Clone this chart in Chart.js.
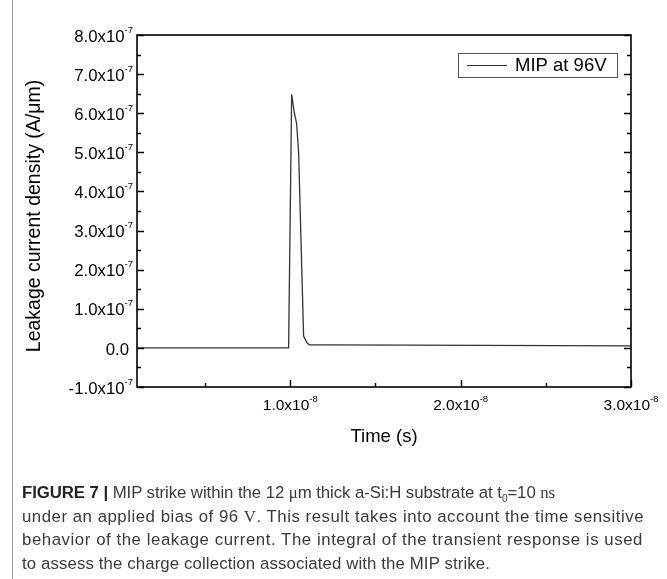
<!DOCTYPE html>
<html>
<head>
<meta charset="utf-8">
<script src="https://cdn.jsdelivr.net/npm/chart.js@4.4.1/dist/chart.umd.min.js"></script>
<style>
  html, body { margin: 0; padding: 0; background: #fff; }
  #wrap { position: relative; width: 667px; height: 579px; overflow: hidden; }
  #c { position: absolute; left: 0; top: 0; }
  #caption {
    position: absolute; left: 22px; top: 481px; width: 645px;
    font-family: "Liberation Sans", Arial, sans-serif; font-size: 16.8px;
    line-height: 23.5px; color: #3a3a3a;
  }
  #caption div { white-space: nowrap; height: 23.5px; }
  #caption b { color: #222; }
  .serif { font-family: "Liberation Serif", "Times New Roman", serif; }
  .sub { font-size: 10px; position: relative; top: 4px; line-height: 0; }
  #leftline { position: absolute; left: 12px; top: 0; width: 1px; height: 579px; background: #9a9a9a; }
</style>
</head>
<body>
<div id="wrap">
  <canvas id="c" width="667" height="579"></canvas>
  <div id="leftline"></div>
  <div id="caption">
    <div><span class="capline" data-w="533"><b>FIGURE 7 |</b> MIP strike within the 12 <span class="serif">μ</span>m thick a-Si:H substrate at t<span class="sub">0</span>=10 <span class="serif">ns</span></span></div>
    <div><span class="capline" data-w="622">under an applied bias of 96 <span class="serif">V</span>. This result takes into account the time sensitive</span></div>
    <div><span class="capline" data-w="621">behavior of the leakage current. The integral of the transient response is used</span></div>
    <div><span class="capline" data-w="468">to assess the charge collection associated with the MIP strike.</span></div>
  </div>
</div>
<script>
// ---- data ----
const seriesName = "MIP at 96V";
const timeSec = [1.0e-9, 9.90e-9, 1.008e-8, 1.024e-8, 1.037e-8, 1.049e-8, 1.078e-8, 1.098e-8, 1.112e-8, 1.2e-8, 1.7e-8, 3.0e-8];
const currentDensity = [0, 0, 6.48e-7, 6.00e-7, 5.74e-7, 4.97e-7, 0.30e-7, 0.13e-7, 0.08e-7, 0.075e-7, 0.07e-7, 0.05e-7];

const xMajorTicks = [1e-8, 2e-8, 3e-8];
const xTickMantissa = ["1.0", "2.0", "3.0"];
const xTickExponent = ["-8", "-8", "-8"];
const xMinorTicks = [5e-9, 1.5e-8, 2.5e-8];

const yMajorTicks = [-1e-7, 0, 1e-7, 2e-7, 3e-7, 4e-7, 5e-7, 6e-7, 7e-7, 8e-7];
const yTickMantissa = ["-1.0", "0.0", "1.0", "2.0", "3.0", "4.0", "5.0", "6.0", "7.0", "8.0"];
const yTickExponent = ["-7", "", "-7", "-7", "-7", "-7", "-7", "-7", "-7", "-7"];
const yMinorTicks = [-0.5e-7, 0.5e-7, 1.5e-7, 2.5e-7, 3.5e-7, 4.5e-7, 5.5e-7, 6.5e-7, 7.5e-7];

const xTitle = "Time (s)";
const yTitle = "Leakage current density (A/\u03BCm)";

const points = timeSec.map((t, i) => ({ x: t, y: currentDensity[i] }));

const FONT = '"Liberation Sans", Arial, sans-serif';

// fit each caption line's letter spacing to the width it spans in the figure
document.querySelectorAll('.capline').forEach(el => {
  const target = parseFloat(el.dataset.w);
  const w = el.getBoundingClientRect().width;
  const n = el.textContent.length;
  const ls = Math.max(-1, Math.min(1.5, (target - w) / n));
  el.style.letterSpacing = ls.toFixed(3) + 'px';
});

const framePlugin = {
  id: 'originFrame',
  afterDraw(chart) {
    const ctx = chart.ctx;
    const a = chart.chartArea;
    const xs = chart.scales.x, ys = chart.scales.y;
    ctx.save();
    ctx.strokeStyle = '#000';
    ctx.lineWidth = 1.6;
    ctx.strokeRect(a.left, a.top, a.right - a.left, a.bottom - a.top);
    ctx.lineWidth = 1.4;
    ctx.beginPath();
    yMajorTicks.forEach(v => {
      const y = Math.round(ys.getPixelForValue(v)) + 0.5;
      ctx.moveTo(a.left, y); ctx.lineTo(a.left + 7, y);
      ctx.moveTo(a.right, y); ctx.lineTo(a.right - 7, y);
    });
    yMinorTicks.forEach(v => {
      const y = Math.round(ys.getPixelForValue(v)) + 0.5;
      ctx.moveTo(a.left, y); ctx.lineTo(a.left + 4, y);
      ctx.moveTo(a.right, y); ctx.lineTo(a.right - 4, y);
    });
    xMajorTicks.forEach(v => {
      const x = Math.round(xs.getPixelForValue(v)) + 0.5;
      ctx.moveTo(x, a.bottom); ctx.lineTo(x, a.bottom - 7);
    });
    xMinorTicks.forEach(v => {
      const x = Math.round(xs.getPixelForValue(v)) + 0.5;
      ctx.moveTo(x, a.bottom); ctx.lineTo(x, a.bottom - 4);
    });
    ctx.stroke();

    ctx.fillStyle = '#000';
    ctx.textBaseline = 'middle';
    const yBaseFont = '16.8px ' + FONT;
    const xBaseFont = '15.5px ' + FONT;
    const expFont = '9.5px ' + FONT;
    yMajorTicks.forEach((v, i) => {
      const y = ys.getPixelForValue(v);
      const rightEdge = a.left - 4;
      let x;
      ctx.font = expFont;
      const e = yTickExponent[i];
      if (e) {
        const ew = ctx.measureText(e).width;
        ctx.textAlign = 'left';
        ctx.fillText(e, rightEdge - ew, y - 5);
        x = rightEdge - ew;
      } else {
        x = rightEdge - 4;
      }
      ctx.font = yBaseFont;
      ctx.textAlign = 'right';
      ctx.fillText(yTickMantissa[i] + (e ? 'x10' : ''), x, y + 2);
    });
    xMajorTicks.forEach((v, i) => {
      const cx = xs.getPixelForValue(v);
      ctx.font = xBaseFont;
      const base = xTickMantissa[i] + 'x10';
      const bw = ctx.measureText(base).width;
      ctx.font = expFont;
      const ew = ctx.measureText(xTickExponent[i]).width;
      const x0 = cx - (bw + ew) / 2;
      ctx.textAlign = 'left';
      ctx.font = xBaseFont;
      ctx.fillText(base, x0, a.bottom + 19);
      ctx.font = expFont;
      ctx.fillText(xTickExponent[i], x0 + bw, a.bottom + 12);
    });

    ctx.font = '18.5px ' + FONT;
    ctx.textAlign = 'center';
    ctx.fillText(xTitle, (a.left + a.right) / 2, a.bottom + 50);
    ctx.save();
    ctx.font = '19.5px ' + FONT;
    ctx.translate(35, 216);
    ctx.rotate(-Math.PI / 2);
    ctx.fillText(yTitle, 0, 0);
    ctx.restore();

    const lx = 458, ly = 53, lw = 159, lh = 24;
    ctx.strokeStyle = '#555';
    ctx.lineWidth = 1;
    ctx.strokeRect(lx + 0.5, ly + 0.5, lw, lh);
    ctx.strokeStyle = '#333';
    ctx.lineWidth = 1.2;
    ctx.beginPath();
    ctx.moveTo(lx + 9, ly + 12.5); ctx.lineTo(lx + 49, ly + 12.5);
    ctx.stroke();
    ctx.fillStyle = '#000';
    ctx.font = '18.5px ' + FONT;
    ctx.textAlign = 'left';
    ctx.fillText(chart.data.datasets[0].label, lx + 57, ly + 13);
    ctx.restore();
  }
};

new Chart(document.getElementById('c'), {
  type: 'line',
  data: {
    datasets: [{
      label: seriesName,
      data: points,
      borderColor: '#333',
      borderWidth: 1.3,
      pointRadius: 0,
      tension: 0,
      fill: false
    }]
  },
  options: {
    responsive: false,
    animation: false,
    devicePixelRatio: 1,
    layout: { padding: { left: 137, top: 35, right: 36, bottom: 192 } },
    plugins: { legend: { display: false }, tooltip: { enabled: false } },
    scales: {
      x: {
        type: 'linear', min: 1e-9, max: 3e-8,
        grid: { display: false, drawTicks: false },
        border: { display: false },
        ticks: { display: false }
      },
      y: {
        type: 'linear', min: -1e-7, max: 8e-7,
        grid: { display: false, drawTicks: false },
        border: { display: false },
        ticks: { display: false }
      }
    }
  },
  plugins: [framePlugin]
});
</script>
</body>
</html>
